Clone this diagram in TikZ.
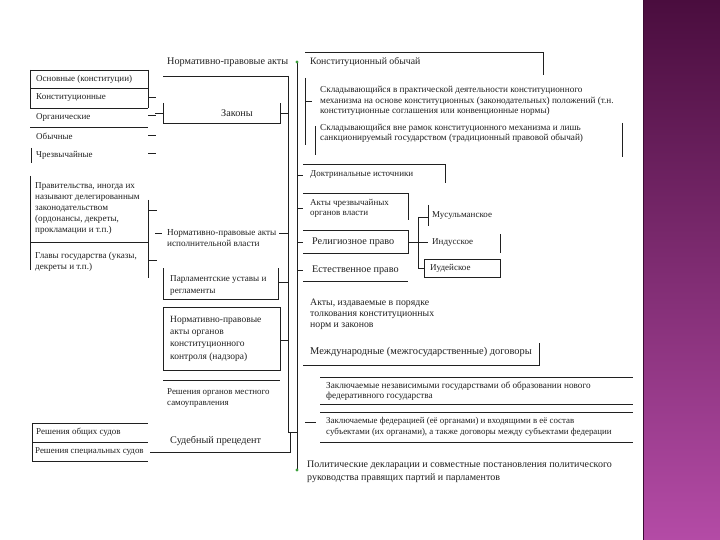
\documentclass[tikz,border=0pt]{standalone}
\usepackage{fontspec}
\setmainfont{Liberation Serif}
\definecolor{bartop}{HTML}{4A0D3E}
\definecolor{barmid}{HTML}{7D2C70}
\definecolor{barbot}{HTML}{B44BA6}
\definecolor{dotgreen}{HTML}{3CA03C}
\definecolor{ink}{HTML}{202020}
\begin{document}
\begin{tikzpicture}[x=1pt,y=-1pt,
  ln/.style={draw=ink, line width=0.75pt},
  txt/.style={anchor=west, inner sep=0pt, align=left, text=ink, font=\fontsize{9}{10.5}\selectfont},
  big/.style={txt, font=\fontsize{10.2}{12}\selectfont},
  sub/.style={txt, font=\fontsize{9.2}{10.5}\selectfont},
  sm/.style={txt, font=\fontsize{8.9}{10.5}\selectfont},
  gdot/.style={fill=dotgreen, draw=none}]
\useasboundingbox (0,0) rectangle (720,540);
\fill[white] (0,0) rectangle (720,540);
% purple side bar
\shade[top color=bartop, middle color=barmid, bottom color=barbot] (643,0) rectangle (720,540);
\draw[draw=bartop!80!black, line width=1pt] (643.5,0) -- (643.5,540);

% ---- spines
\coordinate (spT) at (297,62);
\coordinate (spB) at (297,470);
\draw[ln] (spT) -- (spB);
\fill[gdot] (spT) circle (1.6);
\fill[gdot] (spB) circle (1.6);
\coordinate (inT) at (288,76);
\coordinate (inB) at (288,432);
\draw[ln] (inT) -- (inB);

% ---- header
\node[big] (npa) at (167,62) {Нормативно-правовые акты};
\draw[ln] (163,76) -- (inT);

% ---- Законы
\node[big] (zak) at (221,113) {Законы};
\draw[ln] (163,103) -- (163,123) -- (280,123) -- (280,103);
\draw[ln] (280,113) -- (288,113);
\draw[ln] (155,113) -- (163,113);

% ---- left group 1
\foreach \yy in {70,88,108,127} \draw[ln] (30,\yy) -- (148,\yy);
\draw[ln] (30,70) -- (30,108);
\draw[ln] (148,70) -- (148,108);
\draw[ln] (31,148) -- (31,163);
\node[txt] (osn) at (36,79) {Основные (конституции)};
\node[txt] (konst) at (36,98) {Конституционные};
\node[txt] (org) at (36,117) {Органические};
\node[txt] (obych) at (36,136) {Обычные};
\node[txt] (chrez) at (36,155) {Чрезвычайные};
\foreach \yy in {97,115,135,153} \draw[ln] (148,\yy) -- (156,\yy);

% ---- left group 2
\draw[ln] (30,176) -- (30,270);
\draw[ln] (30,242) -- (148,242);
\draw[ln] (148,200) -- (148,278);
\draw[ln] (148,210) -- (157,210);
\draw[ln] (148,260) -- (157,260);
\node[sub, font=\fontsize{9.1}{11}\selectfont] (prav) at (35,208) {Правительства, иногда их\\называют делегированным\\законодательством\\(ордонансы, декреты,\\прокламации и т.п.)};
\node[sub, font=\fontsize{9.1}{11}\selectfont] (glav) at (35,261.5) {Главы государства (указы,\\декреты и т.п.)};

% ---- исполнительная власть
\node[txt, font=\fontsize{9.2}{11}\selectfont] (isp) at (167,238) {Нормативно-правовые акты\\исполнительной власти};
\draw[ln] (155,233) -- (162,233);
\draw[ln] (279,233) -- (288,233);

% ---- Парламентские уставы
\node[txt, font=\fontsize{9.1}{12}\selectfont] (parl) at (170,285) {Парламентские уставы и\\регламенты};
\draw[ln] (163,268) -- (163,299) -- (278,299) -- (278,268);
\draw[ln] (278,282) -- (288,282);

% ---- конституционный контроль
\node[txt, font=\fontsize{9.5}{12.3}\selectfont] (kontr) at (170,338.5) {Нормативно-правовые\\акты органов\\конституционного\\контроля (надзора)};
\draw[ln] (163,307) rectangle (280,370);
\draw[ln] (280,340) -- (288,340);

% ---- местное самоуправление
\draw[ln] (163,380) -- (280,380);
\node[sm] (mest) at (167,398) {Решения органов местного\\самоуправления};

% ---- суды
\foreach \yy in {423,442,461} \draw[ln] (32,\yy) -- (148,\yy);
\draw[ln] (32,423) -- (32,461);
\node[txt] (obsh) at (36,432) {Решения общих судов};
\node[sm] (spec) at (35,452) {Решения специальных судов};
\draw[ln] (150,452) -- (163,452);
\node[big] (sud) at (170,441) {Судебный прецедент};
\draw[ln] (163,452) -- (290,452) -- (290,432);
\draw[ln] (288,432) -- (297,432);

% ---- Конституционный обычай
\node[txt, font=\fontsize{9.8}{11}\selectfont] (kobych) at (310,62) {Конституционный обычай};
\draw[ln] (305,52) -- (543,52) -- (543,75);
\draw[ln] (305,78) -- (305,145);
\draw[ln] (305,101) -- (312,101);
\node[sub] (skl1) at (320,101) {Складывающийся в практической деятельности конституционного\\механизма на основе конституционных (законодательных) положений (т.н.\\конституционные соглашения или конвенционные нормы)};
\draw[ln] (315,126) -- (315,155);
\node[sub] (skl2) at (320,133.5) {Складывающийся вне рамок конституционного механизма и лишь\\санкционируемый государством (традиционный правовой обычай)};
\draw[ln] (622,123) -- (622,157);

% ---- Доктринальные
\node[txt] (dokt) at (310,175) {Доктринальные источники};
\draw[ln] (303,164) -- (445,164) -- (445,183);
\draw[ln] (297,175) -- (303,175);

% ---- Акты чрезвычайных
\node[txt] (chrezv) at (310,208.5) {Акты чрезвычайных\\органов власти};
\draw[ln] (303,193) -- (408,193) -- (408,220);
\draw[ln] (297,208) -- (303,208);

% ---- Религиозное право
\node[big] (rel) at (312,242) {Религиозное право};
\draw[ln] (303,230) -- (408,230) -- (408,253) -- (303,253);
\draw[ln] (297,242) -- (303,242);
\draw[ln] (408,242) -- (418,242);
\draw[ln] (418,217) -- (418,268);
\draw[ln] (418,217) -- (428,217);
\draw[ln] (418,242) -- (428,242);
\draw[ln] (418,268) -- (424,268);
\node[txt] (mus) at (432,216) {Мусульманское};
\draw[ln] (428,205) -- (428,226);
\node[txt] (ind) at (432,243) {Индусское};
\draw[ln] (500,234) -- (500,253);
\node[txt] (iud) at (430,268) {Иудейское};
\draw[ln] (424,259) rectangle (500,277);

% ---- Естественное право
\node[big] (est) at (312,270) {Естественное право};
\draw[ln] (297,270) -- (303,270);
\draw[ln] (303,281) -- (408,281);

% ---- Акты толкования
\node[txt, font=\fontsize{9.8}{11}\selectfont] (tolk) at (310,314) {Акты, издаваемые в порядке\\толкования конституционных\\норм и законов};

% ---- Международные договоры
\node[txt, font=\fontsize{10.4}{12}\selectfont] (mezh) at (310,352) {Международные (межгосударственные) договоры};
\draw[ln] (303,365) -- (539,365) -- (539,343);
\draw[ln] (320,377) -- (633,377);
\draw[ln] (320,404) -- (633,404);
\node[sub] (zakl1) at (326,391) {Заключаемые независимыми государствами об образовании нового\\федеративного государства};
\draw[ln] (320,412) -- (633,412);
\draw[ln] (320,442) -- (633,442);
\node[sub, font=\fontsize{8.9}{10.5}\selectfont] (zakl2) at (326,427) {Заключаемые федерацией (её органами) и входящими в её состав\\субъектами (их органами), а также договоры между субъектами федерации};
\draw[ln] (305,422) -- (316,422);

% ---- Политические декларации
\node[txt, font=\fontsize{10}{13}\selectfont] (polit) at (307,471.5) {Политические декларации и совместные постановления политического\\руководства правящих партий и парламентов};
\end{tikzpicture}
\end{document}
